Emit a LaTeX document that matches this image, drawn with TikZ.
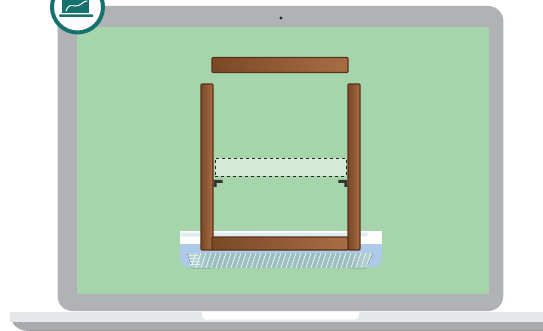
\documentclass[tikz,border=0pt]{standalone}
\usepackage{xcolor}
\usepackage{tikz}
\usetikzlibrary{arrows.meta, positioning, calc}

\definecolor{bezel}{HTML}{B1B2B6}
\definecolor{screen}{HTML}{A6D5AB}
\definecolor{baselight}{HTML}{E6E7E9}
\definecolor{basedark}{HTML}{A9AAAE}
\definecolor{wooddark}{HTML}{7B4826}
\definecolor{woodlight}{HTML}{A86D45}
\definecolor{woodline}{HTML}{5A3217}
\definecolor{badge}{HTML}{17726D}
\definecolor{tubblue}{HTML}{AFC9E9}
\definecolor{tubstripe}{HTML}{DDEDF0}
\definecolor{grate}{HTML}{9BBFC0}
\definecolor{gapfill}{HTML}{D5EAD8}

\begin{document}
\begin{tikzpicture}[
        x=1pt, y=-1pt,
        board/.style={draw=woodline, line width=1.1pt, rounded corners=1pt, inner sep=0pt,
            left color=wooddark, right color=woodlight},
        gapbox/.style={draw=black!85, dashed, line width=0.8pt, fill=gapfill, inner sep=0pt,
            minimum width=131pt, minimum height=18pt},
        bracket/.style={fill=black!80}
    ]
    \useasboundingbox (0,0) rectangle (543,331);
    \clip (0,0) rectangle (543,331);

    % Laptop base
    \fill[basedark] (12,321) -- (543,321) -- (543,331) -- (30,331) to[out=180,in=-70] cycle;
    \fill[black!40] (30,329.5) -- (543,329.5) -- (543,331) -- (30,331) -- cycle;
    \fill[baselight] (10,312) rectangle (543,321.7);
    \fill[white, rounded corners=4pt] (202,308) rectangle (359,319.5);

    % Bezel and screen
    \fill[bezel, rounded corners=15pt] (57.5,6) rectangle (503.3,311);
    \fill[screen] (77,27) rectangle (489,293.5);
    \fill[black!85] (281,18) circle (1.6);

    % Tub behind the frame
    \fill[tubblue, rounded corners=9pt] (180,236) rectangle (382,267);
    \fill[white] (180,231) rectangle (382,244);
    \fill[tubstripe, rounded corners=2pt] (180,232.5) rectangle (368,236.5);
    \begin{scope}
        \clip (187,253) -- (373,253) -- (366,268) -- (192,268) -- cycle;
        \fill[grate] (180,250) rectangle (380,270);
        \fill[left color=tubstripe!60!grate, right color=grate] (180,250) rectangle (212,270);
        \fill[left color=grate, right color=tubstripe!60!grate] (350,250) rectangle (380,270);
        \foreach \x in {196,201,...,371}
            \draw[white!85!grate, line width=0.7pt] (\x-5,268) -- (\x,253);
    \end{scope}
    \foreach \y in {255,258,261,264}
        \draw[tubstripe, line width=0.8pt] (183+\y/40,\y) -- ++(10,0);

    % Frame boards
    \node[board, minimum width=136pt, minimum height=15pt] (topboard) at (280,65) {};
    \node[board, minimum width=12pt, minimum height=166pt] (leftpost) at (207,167) {};
    \node[board, minimum width=12pt, minimum height=166pt] (rightpost) at (354,167) {};
    \node[board, minimum width=136pt, minimum height=13pt] (bottomboard) at (280,243.5) {};
    \node[gapbox] (gap) at (280.5,167) {};

    % Brackets under the gap
    \fill[bracket] (leftpost.east) ++(0,13) -- ++(9,0) -- ++(0,3) -- ++(-6,0) -- ++(0,4) -- ++(-3,0) -- cycle;
    \fill[bracket] (rightpost.west) ++(0,13) -- ++(-9,0) -- ++(0,3) -- ++(6,0) -- ++(0,4) -- ++(3,0) -- cycle;

    % Badge
    \node[circle, draw=badge, line width=4pt, fill=white, minimum size=51pt] (badge) at (77.5,7) {};
    \fill[badge] (62.3,-6) rectangle (89,13);
    \draw[white, line width=1pt, line cap=round] (66,11) .. controls (69,3) and (72,6) .. (76,6) .. controls (81,6) and (83,1) .. (87,1);
    \fill[badge, rounded corners=1pt] (59,14.5) rectangle (93.3,17);
\end{tikzpicture}
\end{document}
